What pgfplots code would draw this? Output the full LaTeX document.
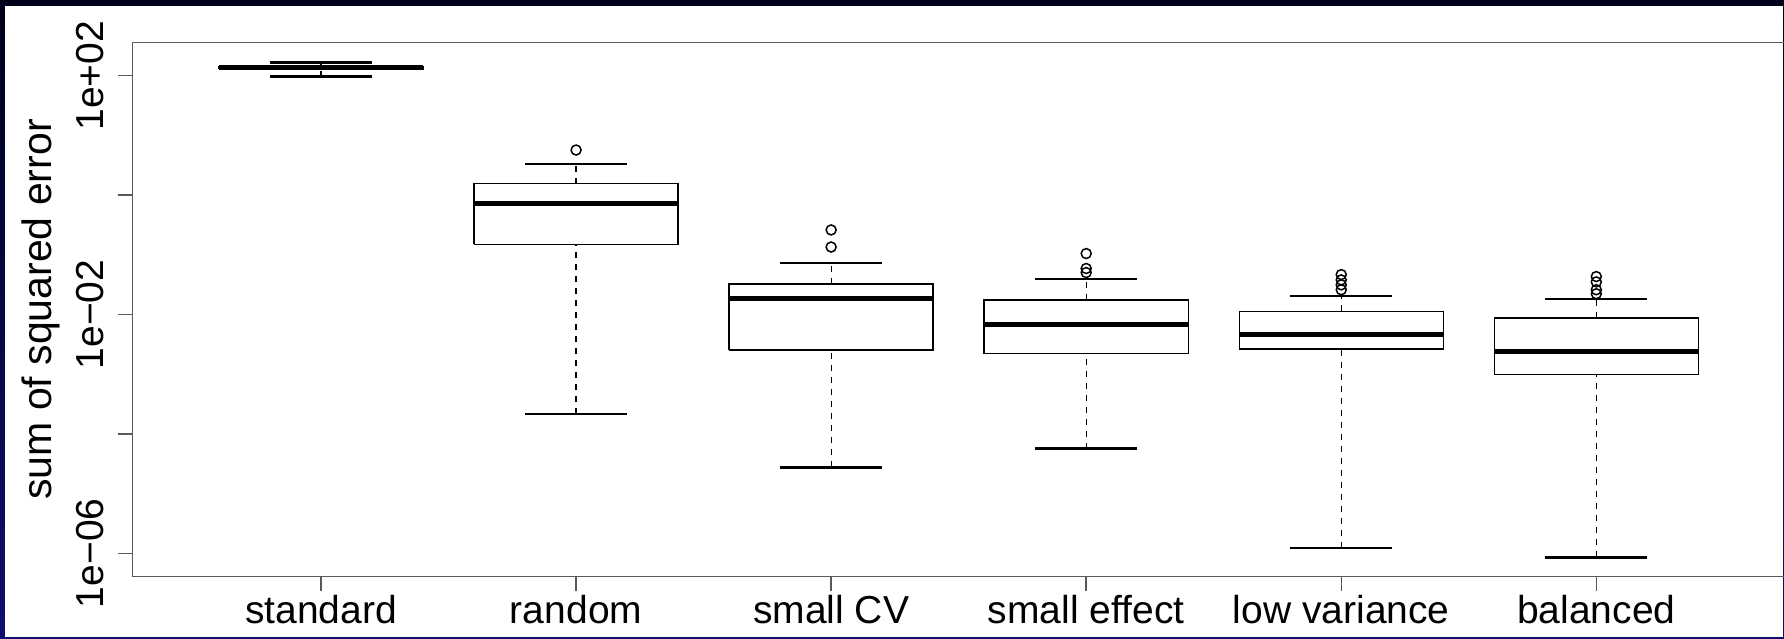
\documentclass[border=0pt]{standalone}
\usepackage{fontspec}
\setmainfont{Liberation Sans}
\usepackage{pgfplots}
\pgfplotsset{compat=1.18}
\definecolor{frametop}{RGB}{0,0,28}
\definecolor{framebot}{RGB}{14,14,110}
\definecolor{axisgray}{RGB}{90,90,90}
\begin{document}
\begin{tikzpicture}[x=1pt,y=1pt]
\useasboundingbox (0,0) rectangle (1784,638);
\shade[top color=frametop, bottom color=framebot] (0,0) rectangle (1784,638);
\fill[white] (4.7,0.8) rectangle (1783,632.3);
\begin{axis}[
  at={(132.3pt,61.3pt)}, anchor=south west,
  width=1652.7pt, height=534.4pt, scale only axis,
  xmin=0.26, xmax=6.74,
  ymode=log, ymin=4.06e-7, ymax=362.6,
  xtick={1,2,3,4,5,6},
  xticklabels={standard,random,small CV,small effect,low variance,balanced},
  ytick={1e-6,1e-4,1e-2,1,100},
  yticklabels={1e−06,,1e−02,,1e+02},
  yminorticks=false, xminorticks=false,
  tick pos=left, tick align=outside,
  major tick length=14pt,
  tick style={axisgray, line width=1.5pt},
  axis line style={axisgray, line width=1.5pt},
  tick label style={font=\fontsize{39}{47}\selectfont, text=black},
  xticklabel style={anchor=base, yshift=-32.6pt},
  yticklabel style={xshift=-15.3pt, rotate=90, anchor=base},
  ylabel={sum of squared error},
  every axis y label/.style={at={(axis description cs:-0.0486,0.5)}, rotate=90, anchor=base, font=\fontsize{41}{49}\selectfont},
  unbounded coords=jump,
  clip=false,
]
% boxes: lower and upper quartiles
\addplot[black, line width=1.4pt, line join=miter, mark=none] coordinates {
 (0.6,130) (1.4,130) (1.4,141) (0.6,141) (0.6,130) (1,nan)
 (1.6,0.149) (2.4,0.149) (2.4,1.56) (1.6,1.56) (1.6,0.149) (2,nan)
 (2.6,0.00255) (3.4,0.00255) (3.4,0.0324) (2.6,0.0324) (2.6,0.00255) (3,nan)
 (3.6,0.00222) (4.4,0.00222) (4.4,0.01738) (3.6,0.01738) (3.6,0.00222) (4,nan)
 (4.6,0.00263) (5.4,0.00263) (5.4,0.01135) (4.6,0.01135) (4.6,0.00263) (5,nan)
 (5.6,0.000995) (6.4,0.000995) (6.4,0.00871) (5.6,0.00871) (5.6,0.000995)
};
% medians
\addplot[black, line width=5pt, mark=none] coordinates {
 (0.6,136) (1.4,136) (1,nan)
 (1.6,0.73) (2.4,0.73) (2,nan)
 (2.6,0.01876) (3.4,0.01876) (3,nan)
 (3.6,0.00675) (4.4,0.00675) (4,nan)
 (4.6,0.00464) (5.4,0.00464) (5,nan)
 (5.6,0.0024) (6.4,0.0024)
};
% whiskers (dashed)
\addplot[black, line width=1.3pt, dash pattern=on 6pt off 6pt, mark=none] coordinates {
 (1,96.2) (1,130) (1,nan) (1,141) (1,166) (1,nan)
 (2,2.14e-4) (2,0.149) (2,nan) (2,1.56) (2,3.32) (2,nan)
 (3,2.74e-5) (3,0.00255) (3,nan) (3,0.0324) (3,0.0723) (3,nan)
 (4,5.65e-5) (4,0.00222) (4,nan) (4,0.01738) (4,0.0392) (4,nan)
 (5,1.23e-6) (5,0.00263) (5,nan) (5,0.01135) (5,0.02056) (5,nan)
 (6,8.53e-7) (6,0.000995) (6,nan) (6,0.00871) (6,0.0182)
};
% staples (whisker ends)
\addplot[black, line width=2.5pt, mark=none] coordinates {
 (0.8,96.2) (1.2,96.2) (1,nan) (0.8,166) (1.2,166) (1,nan)
 (1.8,2.14e-4) (2.2,2.14e-4) (2,nan) (1.8,3.32) (2.2,3.32) (2,nan)
 (2.8,2.74e-5) (3.2,2.74e-5) (3,nan) (2.8,0.0723) (3.2,0.0723) (3,nan)
 (3.8,5.65e-5) (4.2,5.65e-5) (4,nan) (3.8,0.0392) (4.2,0.0392) (4,nan)
 (4.8,1.23e-6) (5.2,1.23e-6) (5,nan) (4.8,0.02056) (5.2,0.02056) (5,nan)
 (5.8,8.53e-7) (6.2,8.53e-7) (6,nan) (5.8,0.0182) (6.2,0.0182)
};
% outliers
\addplot[only marks, mark=o, mark size=5pt, mark options={black, line width=1.5pt, solid}] coordinates {
 (2,5.69)
 (3,0.135) (3,0.261)
 (4,0.0504) (4,0.059) (4,0.105)
 (5,0.026) (5,0.0314) (5,0.038) (5,0.0466)
 (6,0.0223) (6,0.026) (6,0.0352) (6,0.0432)
};
\end{axis}
\end{tikzpicture}
\end{document}
